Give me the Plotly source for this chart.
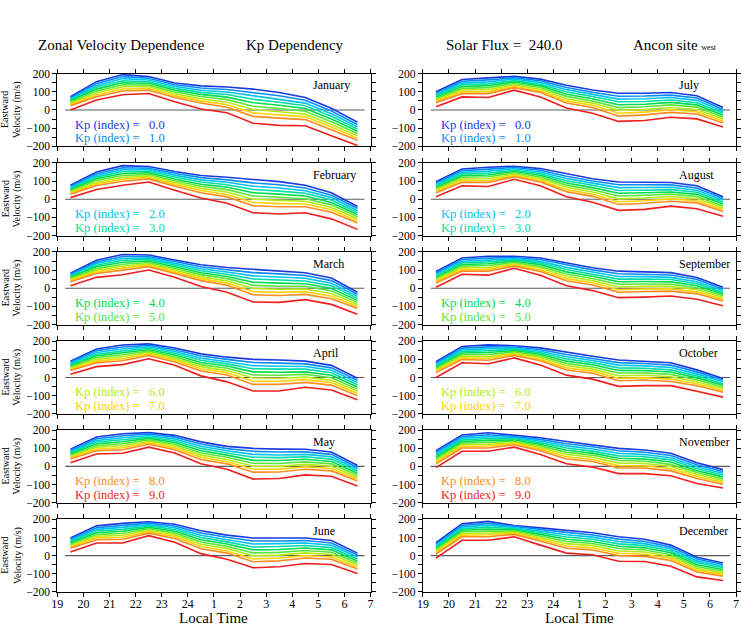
import plotly.graph_objects as go

FONT = "Liberation Serif"

LOCAL_TIME = [19.5, 20.5, 21.5, 22.5, 23.5, 24.5, 25.5, 26.5, 27.5, 28.5, 29.5, 30.5]
X_TICK_VALUES = list(range(19, 32))
X_TICK_LABELS = ["19", "20", "21", "22", "23", "24", "1", "2", "3", "4", "5", "6", "7"]
KP_VALUES = [0.0, 1.0, 2.0, 3.0, 4.0, 5.0, 6.0, 7.0, 8.0, 9.0]

# each month: rows are Kp = 0 ... 9, columns follow LOCAL_TIME
JANUARY = [
    [73, 156, 195, 184, 149, 133, 127, 115, 96, 69, 9, -67],
    [67, 146, 184, 175, 139, 121, 113, 96, 78, 54, -6, -80],
    [61, 135, 173, 165, 129, 109, 99, 78, 61, 38, -21, -92],
    [55, 125, 161, 156, 119, 97, 85, 59, 43, 23, -35, -105],
    [49, 115, 150, 147, 109, 86, 71, 40, 26, 8, -50, -117],
    [42, 104, 139, 137, 99, 74, 57, 21, 8, -7, -65, -130],
    [36, 94, 128, 128, 89, 62, 43, 3, -10, -23, -80, -142],
    [30, 83, 116, 118, 79, 50, 29, -16, -27, -38, -94, -155],
    [24, 73, 105, 109, 69, 38, 15, -35, -45, -53, -109, -167],
    [0, 55, 84, 91, 45, 5, -15, -73, -85, -87, -142, -196],
]
FEBRUARY = [
    [77, 150, 185, 180, 153, 131, 121, 108, 97, 77, 36, -40],
    [71, 141, 174, 171, 143, 119, 107, 90, 80, 62, 22, -51],
    [64, 131, 163, 163, 133, 107, 94, 72, 62, 47, 9, -63],
    [58, 122, 153, 154, 123, 95, 80, 54, 45, 33, -4, -74],
    [52, 113, 142, 146, 112, 83, 67, 36, 28, 18, -18, -85],
    [46, 104, 131, 137, 102, 72, 53, 18, 11, 3, -31, -97],
    [39, 94, 120, 129, 92, 60, 40, 0, -6, -11, -45, -108],
    [33, 85, 110, 120, 82, 48, 26, -18, -24, -26, -58, -120],
    [27, 76, 99, 112, 72, 36, 13, -36, -41, -41, -72, -131],
    [9, 54, 77, 95, 50, 7, -22, -74, -81, -74, -108, -166],
]
MARCH = [
    [83, 154, 186, 183, 156, 129, 114, 103, 96, 85, 56, -22],
    [77, 145, 175, 175, 147, 118, 102, 86, 79, 70, 42, -33],
    [71, 136, 164, 167, 137, 107, 89, 68, 62, 55, 27, -45],
    [65, 127, 154, 159, 128, 96, 77, 51, 45, 40, 13, -56],
    [60, 118, 143, 150, 118, 85, 65, 33, 28, 25, -1, -67],
    [54, 108, 132, 142, 109, 75, 53, 16, 11, 11, -15, -78],
    [48, 99, 121, 134, 100, 64, 40, -1, -6, -4, -30, -90],
    [42, 90, 111, 126, 90, 53, 28, -19, -23, -19, -44, -101],
    [36, 81, 100, 118, 81, 42, 16, -36, -40, -34, -58, -112],
    [14, 60, 74, 100, 60, 9, -22, -76, -78, -63, -89, -143],
]
APRIL = [
    [90, 157, 179, 185, 163, 130, 112, 100, 96, 90, 67, -4],
    [84, 148, 168, 177, 153, 118, 100, 83, 79, 75, 53, -16],
    [77, 138, 157, 169, 143, 106, 87, 65, 62, 61, 40, -28],
    [70, 128, 146, 161, 134, 95, 75, 48, 46, 46, 26, -40],
    [64, 119, 136, 153, 124, 83, 63, 31, 29, 31, 12, -52],
    [58, 110, 125, 145, 114, 71, 51, 14, 12, 17, -1, -64],
    [51, 100, 114, 137, 104, 60, 38, -3, -4, 2, -15, -76],
    [44, 90, 103, 129, 95, 48, 26, -21, -21, -12, -28, -88],
    [38, 81, 92, 121, 85, 36, 14, -38, -38, -27, -42, -100],
    [18, 60, 71, 103, 67, 9, -24, -74, -74, -54, -69, -123],
]
MAY = [
    [95, 162, 180, 186, 171, 135, 110, 99, 95, 94, 79, 5],
    [88, 152, 169, 178, 161, 123, 98, 83, 79, 80, 66, -6],
    [81, 143, 158, 170, 151, 111, 86, 66, 63, 66, 53, -16],
    [75, 134, 147, 162, 141, 99, 74, 50, 48, 53, 40, -27],
    [68, 124, 136, 154, 132, 86, 62, 33, 32, 39, 27, -38],
    [61, 114, 125, 146, 122, 74, 50, 17, 16, 25, 14, -49],
    [54, 105, 114, 138, 112, 62, 38, 1, 0, 11, 1, -60],
    [48, 96, 103, 130, 102, 50, 26, -16, -15, -2, -12, -70],
    [41, 86, 92, 122, 92, 38, 14, -32, -31, -16, -25, -81],
    [20, 68, 72, 106, 74, 14, -16, -70, -67, -47, -54, -108],
]
JUNE = [
    [97, 164, 178, 187, 173, 137, 113, 97, 97, 97, 83, 14],
    [90, 154, 167, 179, 163, 125, 101, 81, 81, 83, 70, 3],
    [83, 145, 156, 171, 154, 112, 88, 64, 66, 70, 57, -8],
    [76, 136, 145, 163, 144, 100, 76, 48, 50, 56, 44, -19],
    [69, 126, 134, 156, 134, 88, 64, 32, 34, 42, 32, -30],
    [62, 116, 123, 148, 124, 75, 51, 15, 18, 28, 19, -41],
    [55, 107, 112, 140, 114, 63, 39, -1, 3, 15, 6, -52],
    [48, 98, 101, 132, 105, 50, 26, -18, -13, 1, -7, -63],
    [41, 88, 90, 124, 95, 38, 14, -34, -29, -13, -20, -74],
    [20, 70, 70, 110, 74, 11, -20, -67, -61, -43, -49, -99],
]
JULY = [
    [100, 168, 177, 185, 170, 136, 110, 92, 92, 96, 78, 14],
    [92, 158, 166, 177, 161, 124, 98, 76, 77, 82, 66, 3],
    [85, 148, 155, 170, 152, 112, 86, 60, 62, 69, 53, -8],
    [78, 139, 144, 162, 142, 99, 74, 45, 47, 55, 40, -18],
    [70, 129, 134, 154, 133, 87, 62, 29, 32, 42, 28, -29],
    [62, 119, 123, 146, 124, 75, 50, 13, 18, 28, 16, -40],
    [55, 110, 112, 138, 114, 62, 38, -2, 3, 14, 3, -50],
    [48, 100, 101, 131, 105, 50, 26, -18, -12, 1, -10, -61],
    [40, 90, 90, 123, 96, 38, 14, -34, -27, -13, -22, -72],
    [18, 72, 69, 109, 72, 11, -18, -63, -58, -40, -49, -94],
]
AUGUST = [
    [96, 167, 176, 182, 169, 139, 113, 95, 94, 92, 74, 14],
    [88, 158, 166, 175, 160, 127, 101, 80, 80, 79, 62, 4],
    [81, 149, 155, 168, 150, 114, 89, 64, 65, 66, 50, -6],
    [74, 140, 144, 160, 141, 102, 77, 48, 50, 53, 39, -16],
    [66, 130, 134, 153, 132, 90, 64, 33, 36, 40, 27, -26],
    [58, 121, 124, 146, 123, 78, 52, 18, 22, 28, 15, -37],
    [51, 112, 113, 138, 114, 66, 40, 2, 7, 15, 4, -47],
    [44, 103, 102, 131, 104, 53, 28, -14, -8, 2, -8, -57],
    [36, 94, 92, 124, 95, 41, 16, -29, -22, -11, -20, -67],
    [14, 74, 70, 110, 74, 14, -16, -61, -56, -38, -52, -94],
]
SEPTEMBER = [
    [92, 167, 176, 176, 167, 140, 113, 94, 92, 86, 59, 5],
    [84, 158, 166, 169, 158, 128, 101, 80, 78, 73, 48, -4],
    [76, 149, 155, 162, 148, 115, 89, 65, 64, 60, 36, -14],
    [68, 140, 145, 156, 139, 103, 77, 50, 51, 48, 25, -23],
    [60, 131, 135, 149, 130, 90, 66, 36, 37, 35, 14, -32],
    [53, 122, 125, 142, 120, 78, 54, 22, 23, 22, 3, -42],
    [45, 113, 114, 136, 111, 66, 42, 7, 10, 10, -8, -51],
    [37, 104, 104, 129, 101, 53, 30, -8, -4, -3, -20, -61],
    [29, 95, 94, 122, 92, 41, 18, -22, -18, -16, -31, -70],
    [5, 77, 72, 110, 72, 14, -13, -52, -49, -43, -61, -97],
]
OCTOBER = [
    [87, 171, 180, 175, 163, 139, 117, 96, 90, 81, 42, -5],
    [80, 162, 169, 168, 154, 127, 105, 82, 77, 68, 31, -14],
    [72, 153, 159, 162, 145, 114, 94, 68, 64, 55, 20, -24],
    [64, 144, 148, 155, 136, 102, 82, 53, 51, 42, 9, -34],
    [57, 135, 138, 148, 128, 90, 70, 39, 38, 30, -2, -43],
    [50, 126, 127, 141, 119, 78, 58, 25, 25, 17, -12, -52],
    [42, 117, 116, 134, 110, 66, 46, 10, 12, 4, -23, -62],
    [34, 108, 106, 128, 101, 53, 35, -4, -1, -9, -34, -72],
    [27, 99, 95, 121, 92, 41, 23, -18, -14, -22, -45, -81],
    [0, 81, 76, 108, 69, 13, -9, -49, -45, -45, -76, -108],
]
NOVEMBER = [
    [87, 173, 185, 171, 158, 137, 119, 99, 90, 72, 20, -18],
    [78, 164, 174, 164, 149, 125, 108, 86, 78, 60, 9, -28],
    [69, 155, 164, 158, 140, 113, 96, 72, 65, 48, -2, -38],
    [60, 146, 154, 152, 131, 101, 84, 58, 53, 36, -13, -48],
    [50, 137, 143, 145, 122, 89, 73, 45, 40, 24, -24, -58],
    [41, 128, 132, 138, 113, 77, 62, 32, 28, 11, -34, -69],
    [32, 119, 122, 132, 104, 65, 50, 18, 16, -1, -45, -79],
    [23, 110, 112, 126, 95, 53, 38, 4, 3, -13, -56, -89],
    [14, 101, 101, 119, 86, 41, 27, -9, -9, -25, -67, -99],
    [-7, 83, 83, 106, 65, 14, -4, -40, -40, -52, -94, -119],
]
DECEMBER = [
    [72, 175, 189, 166, 153, 140, 126, 104, 90, 58, -9, -40],
    [64, 166, 178, 160, 144, 128, 114, 91, 78, 47, -19, -49],
    [56, 157, 168, 154, 135, 115, 102, 78, 66, 37, -29, -58],
    [48, 148, 157, 148, 126, 103, 90, 65, 55, 26, -39, -67],
    [40, 140, 146, 142, 117, 90, 78, 52, 43, 16, -50, -76],
    [33, 131, 136, 135, 108, 78, 67, 39, 31, 5, -60, -86],
    [25, 122, 125, 129, 99, 66, 55, 26, 20, -6, -70, -95],
    [17, 113, 115, 123, 90, 53, 43, 13, 8, -16, -80, -104],
    [9, 104, 104, 117, 81, 41, 31, 0, -4, -27, -90, -113],
    [-14, 85, 85, 104, 58, 14, 5, -31, -32, -58, -117, -137],
]

MONTH_NAMES = ["January", "February", "March", "April", "May", "June",
               "July", "August", "September", "October", "November", "December"]
MONTH_DATA = [JANUARY, FEBRUARY, MARCH, APRIL, MAY, JUNE,
              JULY, AUGUST, SEPTEMBER, OCTOBER, NOVEMBER, DECEMBER]
# Kp pairs listed in the lower-left of each row
ROW_LEGEND_KP = [[0, 1], [2, 3], [4, 5], [6, 7], [8, 9], []]

LINE_COLORS = ["#1a3ae0", "#0a8cf5", "#00c3f0", "#00dcaa", "#00dc50",
               "#5ae63c", "#b4eb14", "#ffd200", "#ff8c1e", "#f01e1e"]

W, H = 742, 631
COL_X = [(52, 369), (422, 739)]
ROW_TOPS = [69, 160, 250.7, 341.7, 432.3, 523.3]
PANEL_H = 74

fig = go.Figure()
layout = {}
shapes = []
annotations = []

for p, (mname, mdata) in enumerate(zip(MONTH_NAMES, MONTH_DATA)):
    n = p + 1
    col, row = p // 6, p % 6
    xa = "x" if n == 1 else f"x{n}"
    ya = "y" if n == 1 else f"y{n}"
    xk = "xaxis" if n == 1 else f"xaxis{n}"
    yk = "yaxis" if n == 1 else f"yaxis{n}"
    x0, x1 = COL_X[col]
    top = ROW_TOPS[row]
    bot = top + PANEL_H
    layout[xk] = dict(
        domain=[x0 / W, x1 / W], anchor=ya, range=[19, 31],
        tickmode="array", tickvals=X_TICK_VALUES, ticktext=X_TICK_LABELS,
        showticklabels=(row == 5), ticks="outside", ticklen=4, tickwidth=1,
        tickcolor="black", showline=True, linecolor="black", linewidth=1,
        mirror="ticks", showgrid=False, zeroline=False, ticklabelstandoff=-3,
        tickfont=dict(family=FONT, size=12, color="black"),
    )
    layout[yk] = dict(
        domain=[1 - bot / H, 1 - top / H], anchor=xa, range=[-200, 200],
        tickmode="linear", tick0=-200, dtick=100,
        ticks="outside", ticklen=4, tickwidth=1, tickcolor="black",
        minor=dict(tickmode="linear", tick0=-200, dtick=50, ticks="outside",
                   ticklen=4, tickcolor="black", showgrid=False),
        showline=True, linecolor="black", linewidth=1, mirror="ticks",
        showgrid=False, zeroline=False,
        tickfont=dict(family=FONT, size=11.5, color="black"),
    )
    shapes.append(dict(type="line", xref=xa, yref=ya, x0=19.3, x1=30.77, y0=0, y1=0,
                       line=dict(color="#5a5a5a", width=1.2), layer="below"))
    for k, kp in enumerate(KP_VALUES):
        fig.add_trace(go.Scatter(
            x=LOCAL_TIME, y=mdata[k], mode="lines", xaxis=xa, yaxis=ya,
            line=dict(color=LINE_COLORS[k], width=1.6),
            showlegend=False, hoverinfo="skip", name=f"Kp {kp}",
        ))
    annotations.append(dict(
        text=mname, xref=f"{xa} domain", yref=f"{ya} domain",
        x=0.81, y=0.84, xanchor="left", yanchor="middle", showarrow=False,
        font=dict(family=FONT, size=12, color="black"),
    ))
    for j, kidx in enumerate(ROW_LEGEND_KP[row]):
        annotations.append(dict(
            text=f"Kp (index) =\u00a0\u00a0\u00a0{KP_VALUES[kidx]:.1f}",
            xref=f"{xa} domain", yref=f"{ya} domain",
            x=0.05, y=[0.30, 0.11][j], xanchor="left", yanchor="middle",
            showarrow=False, font=dict(family=FONT, size=12.5, color=LINE_COLORS[kidx]),
        ))
    if col == 0:
        cy = 1 - (top + PANEL_H / 2) / H
        annotations.append(dict(
            text="Velocity (m/s)", xref="paper", yref="paper", x=11.5 / W, y=cy,
            xanchor="center", yanchor="middle", textangle=-90, showarrow=False,
            font=dict(family=FONT, size=10, color="black"),
        ))
        annotations.append(dict(
            text="Eastward", xref="paper", yref="paper", x=-1.0 / W, y=cy,
            xanchor="center", yanchor="middle", textangle=-90, showarrow=False,
            font=dict(family=FONT, size=10, color="black"),
        ))

# column x titles
for col in range(2):
    x0, x1 = COL_X[col]
    annotations.append(dict(
        text="Local Time", xref="paper", yref="paper", x=(x0 + x1) / 2 / W,
        y=1 - 624 / H, xanchor="center", yanchor="middle", showarrow=False,
        font=dict(family=FONT, size=15, color="black"),
    ))

# header texts
HEADERS = [("Zonal Velocity Dependence", 30), ("Kp Dependency", 241),
           ("Solar Flux =\u00a0\u00a0240.0", 443),
           ("Ancon site <span style='font-size:8px'>west</span>", 633)]
for txt, xl in HEADERS:
    annotations.append(dict(
        text=txt, xref="paper", yref="paper", x=xl / W, y=1 - 40 / H,
        xanchor="left", yanchor="middle", showarrow=False,
        font=dict(family=FONT, size=15, color="black"),
    ))

fig.update_layout(
    width=W, height=H, margin=dict(l=0, r=0, t=0, b=0),
    paper_bgcolor="white", plot_bgcolor="white",
    font=dict(family=FONT, color="black"),
    shapes=shapes, annotations=annotations, showlegend=False,
    **layout,
)

fig.write_html("out.html")
